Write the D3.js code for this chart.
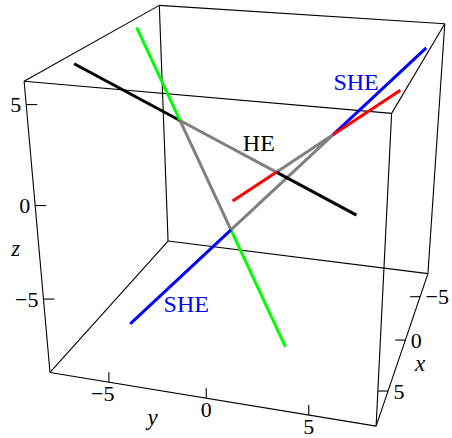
<!DOCTYPE html>
<html>
<head>
<meta charset="utf-8">
<title>HE / SHE lines</title>
<script src="https://cdn.jsdelivr.net/npm/d3@7"></script>
<style>
  html, body { margin: 0; padding: 0; background: #fff; }
  svg { display: block; }
  text { font-family: "Liberation Serif", "Times New Roman", serif; }
</style>
</head>
<body>
<svg id="chart" width="452" height="438"></svg>
<script>
// ---- data ----------------------------------------------------------------
const xDomain = [-8, 8];
const yDomain = [-8.15, 8.15];
const zDomain = [-9.2, 6.1];
const xTicks = [-5, 0, 5];
const yTicks = [-5, 0, 5];
const zTicks = [-5, 0, 5];

// Each line: start, first crossing, second crossing, end  (x, y, z)
const heLine    = [[3.8, -7.8, 5.8], [0, -4, 2], [-4, 0, -2], [-7.8, 3.8, -5.8]];
const greenLine = [[-3.8, -7.8, 5.8], [0, -4, 2], [4, 0, -2], [7.8, 3.8, -5.8]];
const sheLine   = [[7.8, -3.8, -5.8], [4, 0, -2], [0, 4, 2], [-3.8, 7.8, 5.8]];
const redLine   = [[-7.8, -3.8, -5.8], [-4, 0, -2], [0, 4, 2], [3.8, 7.8, 5.8]];

const lineColors = ["#000000", "#00ff00", "#0000ff", "#ff0000"];
const crossingColor = "#808080";
const labelTexts = ["HE", "SHE", "SHE"];
const labelColors = ["#000000", "#0000ff", "#0000ff"];
const axisNames = ["x", "y", "z"];

// ---- layout ----------------------------------------------------------------
const fontSize = 22;
const labelFontSize = 24;
// perspective camera acting on the box normalised to [-1, 1]^3
const camera = [
  [-78.58102, 142.20917, -13.70687, 255.13108],
  [ 31.78393,   9.38098, -144.16409, 191.32129],
  [ -0.13012,  -0.03843,  -0.05249,   1.0]
];
const labelAnchors = [[0, 0.2, 1.2], [6, -1.64, -5.34], [-2, 4.66, 4.22]];
const axisLabelAnchors = {
  x: [2.37, 9.28, -9.2],
  y: [8, -2.81, -11.15],
  z: [8, -9.39, -2.55]
};

const sx = d3.scaleLinear().domain(xDomain).range([-1, 1]);
const sy = d3.scaleLinear().domain(yDomain).range([-1, 1]);
const sz = d3.scaleLinear().domain(zDomain).range([-1, 1]);

function project([x, y, z]) {
  const v = [sx(x), sy(y), sz(z), 1];
  const r = camera.map(row => row[0] * v[0] + row[1] * v[1] + row[2] * v[2] + row[3] * v[3]);
  return [r[0] / r[2], r[1] / r[2]];
}

const svg = d3.select("#chart");
const path = d3.line();

// ---- bounding box ----------------------------------------------------------
const corners = [];
for (const x of xDomain) for (const y of yDomain) for (const z of zDomain) corners.push([x, y, z]);
const edges = [];
corners.forEach((a, i) => corners.forEach((b, j) => {
  if (j > i && [0, 1, 2].filter(k => a[k] !== b[k]).length === 1) edges.push([a, b]);
}));
svg.append("g").selectAll("path").data(edges).join("path")
  .attr("d", e => path(e.map(project)))
  .attr("fill", "none").attr("stroke", "#000").attr("stroke-width", 1.1);

// ---- ticks and tick labels ---------------------------------------------------
const tickG = svg.append("g").attr("font-size", fontSize);
const minus = t => (t < 0 ? "\u2212" + Math.abs(t) : String(t));

zTicks.forEach(t => {
  const p = project([xDomain[1], yDomain[0], t]);
  tickG.append("path").attr("d", path([p, [p[0] + 11, p[1]]]))
    .attr("stroke", "#000").attr("stroke-width", 1.1);
  tickG.append("text").attr("x", p[0] - 5).attr("y", p[1])
    .attr("text-anchor", "end").attr("dominant-baseline", "central").text(minus(t));
});
yTicks.forEach(t => {
  const p = project([xDomain[1], t, zDomain[0]]);
  tickG.append("path").attr("d", path([p, [p[0], p[1] - 10]]))
    .attr("stroke", "#000").attr("stroke-width", 1.1);
  // the digit sits centred under the tick, a minus sign hangs to its left
  tickG.append("text").attr("x", p[0] + 0.25 * fontSize).attr("y", p[1] + 11)
    .attr("text-anchor", "end").attr("dominant-baseline", "central").text(minus(t));
});
xTicks.forEach(t => {
  const p = project([t, yDomain[1], zDomain[0]]);
  tickG.append("path").attr("d", path([p, [p[0] - 10, p[1]]]))
    .attr("stroke", "#000").attr("stroke-width", 1.1);
  tickG.append("text").attr("x", p[0] + 5.5).attr("y", p[1])
    .attr("text-anchor", "start").attr("dominant-baseline", "central").text(minus(t));
});

// axis names
axisNames.forEach(name => {
  const p = project(axisLabelAnchors[name]);
  tickG.append("text").attr("x", p[0]).attr("y", p[1])
    .attr("text-anchor", "middle").attr("dominant-baseline", "central")
    .attr("dy", name === "y" ? "-0.22em" : "-0.11em")
    .attr("font-size", 23)
    .attr("font-style", "italic").text(name);
});

// ---- the four lines -----------------------------------------------------------
const lines = [heLine, greenLine, sheLine, redLine];
const segs = [];
lines.forEach((pts, i) => {
  segs.push({ pts: [pts[1], pts[2]], color: crossingColor, order: 0 });
  segs.push({ pts: [pts[0], pts[1]], color: lineColors[i], order: 1 });
  segs.push({ pts: [pts[2], pts[3]], color: lineColors[i], order: 1 });
});
segs.sort((a, b) => a.order - b.order);
svg.append("g").selectAll("path").data(segs).join("path")
  .attr("d", s => path(s.pts.map(project)))
  .attr("fill", "none").attr("stroke", s => s.color)
  .attr("stroke-width", 3).attr("stroke-linecap", "butt");

// ---- text labels ----------------------------------------------------------------
svg.append("g").attr("font-size", labelFontSize).selectAll("text")
  .data(labelTexts.map((t, i) => ({ t, c: labelColors[i], p: project(labelAnchors[i]) })))
  .join("text")
  .attr("x", d => d.p[0]).attr("y", d => d.p[1])
  .attr("text-anchor", "middle").attr("dominant-baseline", "central")
  .attr("fill", d => d.c).text(d => d.t);
</script>
</body>
</html>
